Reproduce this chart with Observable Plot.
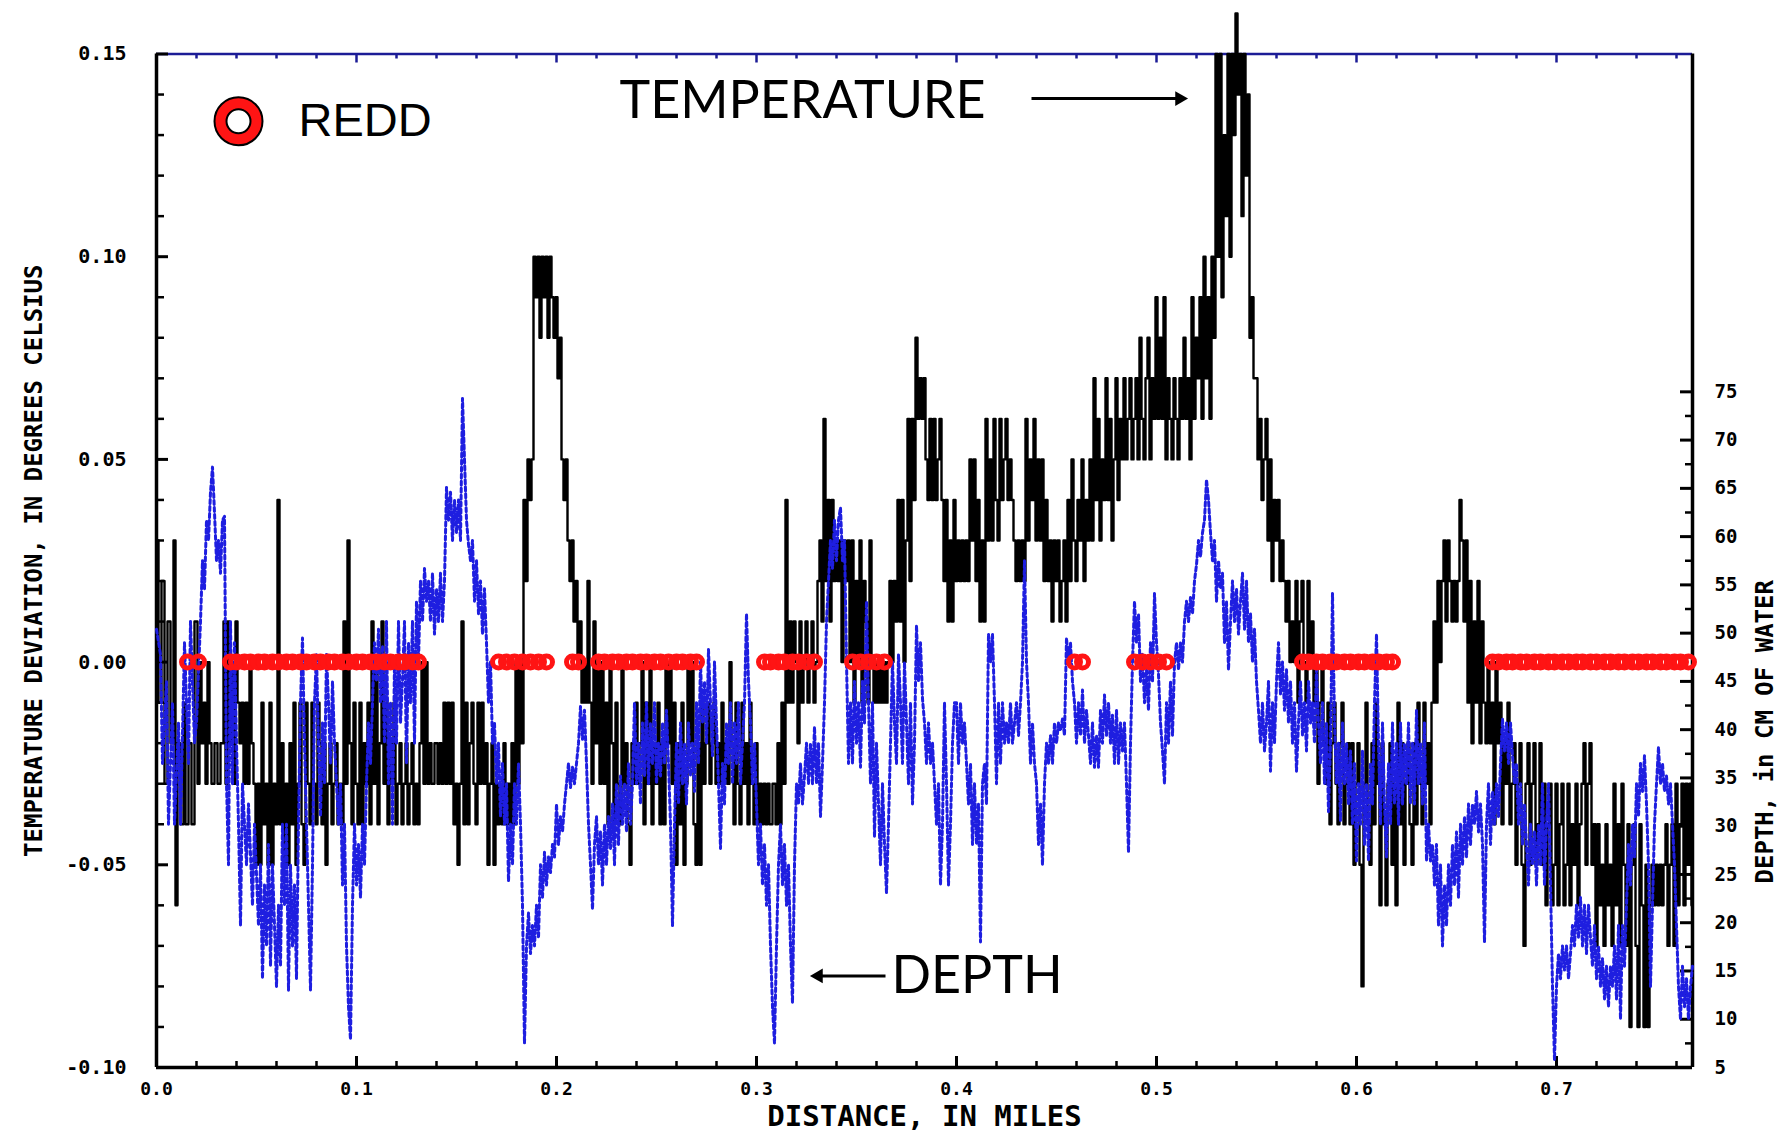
<!DOCTYPE html>
<html><head><meta charset="utf-8">
<script src="https://cdn.jsdelivr.net/npm/d3@7"></script>
<script src="https://cdn.jsdelivr.net/npm/@observablehq/plot@0.6"></script>
<style>html,body{margin:0;padding:0;background:#fff;}</style>
</head><body>
<script>
// temperature deviation (deg C) by distance (miles)
const temperature = [
[0,.03],[.002,-.01],[.003,.02],[.005,-.03],[.006,.01],[.008,-.02],[.009,.03],[.010,-.06],[.011,-.02],[.013,-.04],
[.014,-.01],[.015,-.04],[.017,-.02],[.018,-.04],[.020,.01],[.021,-.03],[.022,0],[.023,-.02],[.024,-.01],[.025,-.03],
[.026,0],[.027,-.02],[.028,-.03],[.030,-.02],[.031,-.03],[.033,-.02],[.034,.01],[.035,-.03],[.036,.01],[.037,-.02],
[.038,0],[.039,-.03],[.040,.01],[.041,-.01],[.042,-.02],[.043,-.01],[.044,-.03],[.045,-.01],[.046,-.03],[.047,0],
[.048,-.02],[.049,-.03],[.050,-.05],[.051,-.03],[.052,-.05],[.053,-.01],[.054,-.04],[.055,-.03],[.056,-.05],[.057,-.01],
[.058,-.05],[.059,-.03],[.060,-.04],[.061,.04],[.062,-.04],[.063,-.02],[.064,-.05],[.065,-.03],[.066,-.05],[.067,-.02],
[.068,-.04],[.069,-.01],[.070,-.05],[.071,-.03],[.072,-.01],[.073,-.04],[.074,-.05],[.075,-.01],[.076,-.03],[.077,-.04],
[.078,-.01],[.079,-.03],[.080,-.04],[.081,-.01],[.082,-.02],[.083,-.04],[.084,-.02],[.085,-.05],[.086,-.03],[.087,-.02],
[.088,-.04],[.089,-.03],[.090,-.02],[.091,-.04],[.092,-.03],[.093,-.04],[.094,.01],[.095,-.03],[.096,.03],[.097,-.02],
[.098,-.04],[.099,-.01],[.100,-.03],[.101,-.04],[.102,-.01],[.103,-.04],[.104,-.02],[.105,-.03],[.106,-.01],[.107,-.04],
[.108,.01],[.109,-.03],[.110,0],[.111,-.04],[.112,-.02],[.113,.01],[.114,-.03],[.115,-.01],[.116,-.04],[.117,-.02],
[.118,-.03],[.119,-.01],[.120,-.04],[.121,-.03],[.122,-.02],[.123,-.04],[.124,-.03],[.125,-.02],[.126,-.04],[.127,-.03],
[.128,-.02],[.129,-.04],[.130,-.03],[.131,-.04],[.132,-.02],[.133,0],[.134,-.03],[.135,0],[.136,-.03],[.137,-.02],
[.138,-.03],[.140,-.02],[.141,-.03],[.142,-.02],[.143,-.03],[.144,-.01],[.145,-.03],[.146,-.01],[.147,-.03],[.148,-.01],
[.149,-.04],[.150,-.03],[.151,-.05],[.152,-.03],[.153,.01],[.154,-.04],[.155,-.01],[.156,-.04],[.157,-.02],[.158,-.01],
[.159,-.03],[.160,-.04],[.161,-.01],[.162,-.03],[.163,-.01],[.164,-.03],[.165,-.02],[.166,-.05],[.167,-.03],[.168,-.02],
[.169,-.05],[.170,-.03],[.171,-.04],[.172,-.03],[.173,-.04],[.174,-.02],[.175,-.04],[.176,-.03],[.177,-.04],[.178,-.02],
[.179,-.04],[.180,0],[.181,-.03],[.182,0],[.183,-.02],[.184,.04],[.185,.02],[.186,.05],[.187,.04],[.188,.05],
[.189,.10],[.190,.09],[.191,.10],[.192,.08],[.193,.10],[.194,.09],[.195,.10],[.196,.08],[.197,.10],[.198,.09],
[.199,.08],[.200,.09],[.201,.07],[.202,.08],[.203,.05],[.204,.04],[.205,.05],[.206,.03],[.207,.02],[.208,.03],
[.209,.01],[.210,.02],[.211,0],[.212,.01],[.213,-.01],[.214,0],[.215,-.01],[.216,.02],[.217,-.01],[.218,-.03],
[.219,.01],[.220,-.02],[.221,0],[.222,-.03],[.223,0],[.224,-.03],[.225,-.01],[.226,-.04],[.227,0],[.228,-.02],
[.229,-.04],[.230,-.01],[.231,-.03],[.232,-.04],[.233,0],[.234,-.03],[.235,-.02],[.236,-.04],[.237,-.05],[.238,-.02],
[.239,-.03],[.240,-.01],[.241,-.03],[.242,-.02],[.243,0],[.244,-.04],[.245,-.01],[.246,-.03],[.247,0],[.248,-.04],
[.249,-.02],[.250,-.03],[.251,-.01],[.252,-.04],[.253,-.02],[.254,-.04],[.255,0],[.256,-.02],[.257,0],[.258,-.03],
[.259,-.01],[.260,-.05],[.261,-.02],[.262,-.04],[.263,-.01],[.264,-.05],[.265,-.03],[.266,0],[.267,-.02],[.268,0],
[.269,-.04],[.270,-.05],[.271,-.02],[.272,-.05],[.273,-.01],[.274,-.03],[.275,-.02],[.276,-.01],[.277,-.03],[.278,-.02],
[.279,-.01],[.280,-.03],[.281,-.02],[.282,-.03],[.283,-.01],[.284,-.03],[.285,-.02],[.286,-.03],[.287,0],[.288,-.02],
[.289,-.04],[.290,-.01],[.291,-.03],[.292,-.04],[.293,-.01],[.294,-.03],[.295,-.02],[.296,-.04],[.297,-.01],[.298,-.03],
[.299,-.04],[.300,-.02],[.301,-.04],[.302,-.03],[.303,-.04],[.304,-.03],[.305,-.04],[.306,-.03],[.307,-.04],[.309,-.03],
[.310,-.04],[.311,-.02],[.312,-.04],[.313,-.01],[.314,-.03],[.315,.04],[.316,-.01],[.317,.01],[.318,-.01],[.319,.01],
[.320,0],[.321,-.02],[.322,.01],[.323,-.01],[.324,0],[.325,.01],[.326,-.01],[.327,0],[.328,.01],[.329,-.01],
[.330,0],[.331,.02],[.332,.03],[.333,.01],[.334,.06],[.335,.02],[.336,.04],[.337,.01],[.338,.04],[.339,.02],
[.340,.03],[.341,.02],[.342,.03],[.343,0],[.344,.03],[.345,.02],[.346,.03],[.347,0],[.348,.03],[.349,-.01],
[.350,.02],[.351,0],[.352,.03],[.353,-.01],[.354,.02],[.355,.01],[.356,-.01],[.357,.03],[.358,0],[.359,-.01],
[.360,0],[.361,-.01],[.362,0],[.363,-.01],[.364,0],[.365,-.01],[.366,0],[.367,.02],[.368,0],[.369,.02],
[.370,.01],[.371,.04],[.372,.01],[.373,.04],[.374,0],[.375,.03],[.376,.06],[.377,.02],[.378,.06],[.379,.04],
[.380,.08],[.381,.06],[.382,.07],[.383,.06],[.384,.07],[.385,.05],[.386,.04],[.387,.06],[.388,.04],[.389,.06],
[.390,.04],[.391,.05],[.392,.06],[.393,.04],[.394,.02],[.395,.04],[.396,.01],[.397,.03],[.398,.01],[.399,.04],
[.400,.02],[.401,.03],[.402,.02],[.403,.03],[.404,.02],[.405,.03],[.406,.02],[.407,.05],[.408,.03],[.409,.05],
[.410,.02],[.411,.04],[.412,.01],[.413,.03],[.414,.01],[.415,.06],[.416,.03],[.417,.05],[.418,.03],[.419,.06],
[.420,.04],[.421,.03],[.422,.06],[.423,.04],[.424,.05],[.425,.06],[.426,.04],[.427,.05],[.428,.04],[.429,.03],
[.430,.02],[.431,.03],[.432,.02],[.433,.03],[.434,.02],[.435,.06],[.436,.03],[.437,.05],[.438,.04],[.439,.06],
[.440,.03],[.441,.05],[.442,.03],[.443,.05],[.444,.02],[.445,.04],[.446,.02],[.447,.03],[.448,.01],[.449,.03],
[.450,.02],[.451,.03],[.452,.01],[.453,.02],[.454,.03],[.455,.01],[.456,.04],[.457,.02],[.458,.05],[.459,.03],
[.460,.02],[.461,.04],[.462,.03],[.463,.05],[.464,.02],[.465,.04],[.466,.03],[.467,.05],[.468,.03],[.469,.07],
[.470,.04],[.471,.06],[.472,.03],[.473,.05],[.474,.04],[.475,.07],[.476,.04],[.477,.06],[.478,.03],[.479,.05],
[.480,.07],[.481,.04],[.482,.06],[.483,.05],[.484,.07],[.485,.05],[.486,.06],[.487,.07],[.488,.05],[.489,.06],
[.490,.07],[.491,.05],[.492,.08],[.493,.06],[.494,.05],[.495,.07],[.496,.08],[.497,.05],[.498,.07],[.499,.06],
[.500,.09],[.501,.06],[.502,.08],[.503,.06],[.504,.09],[.505,.05],[.506,.07],[.507,.06],[.508,.05],[.509,.07],
[.510,.06],[.511,.05],[.512,.07],[.513,.06],[.514,.08],[.515,.06],[.516,.07],[.517,.05],[.518,.09],[.519,.06],
[.520,.08],[.521,.07],[.522,.09],[.523,.06],[.524,.10],[.525,.07],[.526,.09],[.527,.06],[.528,.10],[.529,.08],
[.530,.15],[.531,.10],[.532,.15],[.533,.09],[.534,.13],[.535,.11],[.536,.15],[.537,.10],[.538,.15],[.539,.13],
[.540,.16],[.541,.14],[.542,.15],[.543,.11],[.544,.15],[.545,.12],[.546,.14],[.547,.08],[.548,.09],[.549,.07],
[.550,.07],[.551,.05],[.552,.06],[.553,.04],[.554,.05],[.555,.06],[.556,.03],[.557,.05],[.558,.02],[.559,.04],
[.560,.03],[.561,.04],[.562,.02],[.563,.03],[.564,.02],[.565,.01],[.566,.02],[.567,0],[.568,.01],[.569,0],
[.570,.02],[.571,-.01],[.572,.01],[.573,.02],[.574,0],[.575,-.01],[.576,.02],[.577,0],[.578,.01],[.579,-.01],
[.580,0],[.581,-.03],[.582,-.01],[.583,0],[.584,-.02],[.585,-.03],[.586,-.01],[.587,-.04],[.588,-.02],[.589,-.01],
[.590,-.03],[.591,-.04],[.592,-.02],[.593,-.01],[.594,-.04],[.595,-.03],[.596,-.02],[.597,-.04],[.598,-.02],[.599,-.05],
[.600,-.03],[.601,-.02],[.602,-.05],[.603,-.08],[.604,-.03],[.605,-.01],[.606,-.04],[.607,-.05],[.608,-.02],[.609,-.04],
[.610,-.01],[.611,-.03],[.612,-.06],[.613,-.02],[.614,-.04],[.615,-.06],[.616,-.03],[.617,-.02],[.618,-.05],[.619,-.03],
[.620,-.06],[.621,-.01],[.622,-.04],[.623,-.02],[.624,-.05],[.625,-.03],[.626,-.02],[.627,-.04],[.628,-.05],[.629,-.02],
[.630,-.04],[.631,-.01],[.632,-.03],[.633,-.04],[.634,-.01],[.635,-.03],[.636,-.02],[.637,-.04],[.638,-.01],[.639,.01],
[.640,-.01],[.641,.02],[.642,0],[.643,.02],[.644,.03],[.645,.01],[.646,.03],[.647,.02],[.648,.01],[.649,.02],
[.650,.01],[.651,.02],[.652,.04],[.653,.03],[.654,.01],[.655,.03],[.656,-.01],[.657,.02],[.658,-.02],[.659,.01],
[.660,-.01],[.661,.02],[.662,-.02],[.663,.01],[.664,-.01],[.665,-.02],[.666,0],[.667,-.02],[.668,-.01],[.669,-.04],
[.670,0],[.671,-.02],[.672,-.01],[.673,-.04],[.674,-.02],[.675,-.03],[.676,-.01],[.677,-.04],[.678,-.03],[.679,-.02],
[.680,-.05],[.681,-.03],[.682,-.02],[.683,-.05],[.684,-.07],[.685,-.03],[.686,-.02],[.687,-.05],[.688,-.03],[.689,-.02],
[.690,-.05],[.691,-.04],[.692,-.02],[.693,-.05],[.694,-.03],[.695,-.06],[.696,-.04],[.697,-.03],[.698,-.06],[.699,-.05],
[.700,-.03],[.701,-.06],[.702,-.04],[.703,-.03],[.704,-.06],[.705,-.05],[.706,-.03],[.707,-.06],[.708,-.04],[.709,-.05],
[.710,-.03],[.711,-.06],[.712,-.04],[.713,-.03],[.714,-.02],[.715,-.05],[.716,-.03],[.717,-.02],[.718,-.05],[.719,-.04],
[.720,-.07],[.721,-.04],[.722,-.06],[.723,-.05],[.724,-.07],[.725,-.04],[.726,-.06],[.727,-.05],[.728,-.07],[.729,-.03],
[.730,-.06],[.731,-.04],[.732,-.07],[.733,-.03],[.734,-.05],[.735,-.07],[.736,-.04],[.737,-.09],[.738,-.05],[.739,-.04],
[.740,-.07],[.741,-.09],[.742,-.04],[.743,-.06],[.744,-.09],[.745,-.05],[.746,-.09],[.747,-.06],[.748,-.05],[.749,-.06],
[.750,-.05],[.751,-.06],[.752,-.05],[.753,-.06],[.754,-.05],[.755,-.04],[.756,-.07],[.757,-.05],[.758,-.04],[.759,-.07],
[.760,-.03],[.761,-.06],[.762,-.04],[.763,-.03],[.764,-.06],[.765,-.03],[.766,-.05],[.767,-.03],[.768,-.06]
];

// depth of water (cm) by distance (miles)
const depth = [
[0,50.4],[.002,47.8],[.003,36.5],[.005,45],[.006,30.2],[.008,42.8],[.009,30.2],[.011,40.7],[.012,30.2],[.014,49],
[.016,36.5],[.017,51.2],[.019,38.6],[.020,40.7],[.022,51.2],[.023,57.5],[.024,54.6],[.025,61.7],[.026,59.6],[.027,64.6],
[.028,67.2],[.029,62.5],[.030,57.5],[.031,59.6],[.032,56.2],[.033,61.7],[.034,62.1],[.035,34.4],[.036,26],[.037,51.2],
[.038,34.4],[.039,49],[.040,38.6],[.041,30.2],[.042,19.7],[.043,34.4],[.045,26],[.046,32.3],[.048,21.8],[.049,30.2],
[.051,19.7],[.052,26],[.053,14.2],[.054,23.9],[.055,17.6],[.056,28.1],[.057,15.5],[.058,26],[.060,13.4],[.061,21.8],
[.062,15.5],[.063,30.2],[.064,21.8],[.065,30.2],[.066,13],[.067,26],[.068,17.6],[.069,23.9],[.070,14.2],[.071,30.2],
[.072,42.8],[.073,49.5],[.074,38.6],[.075,30.2],[.076,21.8],[.077,13],[.078,26],[.079,42.8],[.080,47.8],[.081,38.6],
[.082,31],[.083,40.7],[.084,34.4],[.085,47.8],[.086,42.8],[.087,36.5],[.088,45],[.089,38.6],[.090,34.4],[.091,30.2],
[.092,34.4],[.093,23.9],[.094,30.2],[.095,17.6],[.096,11.3],[.097,7.9],[.098,21.8],[.099,30.2],[.100,23.9],[.101,28.1],
[.102,22.6],[.103,30.2],[.104,26],[.105,34.4],[.106,40.7],[.107,36.5],[.108,42.8],[.109,49],[.110,45],[.111,50.4],
[.112,42.8],[.113,48.7],[.114,38.6],[.115,51.2],[.116,34.4],[.117,42.8],[.118,30.2],[.119,47],[.120,38.6],[.121,51.2],
[.122,40.7],[.123,45],[.124,51.2],[.125,36.5],[.126,49],[.127,42.8],[.128,51.2],[.129,38.6],[.130,53.3],[.131,47],
[.132,55.4],[.133,51.2],[.134,56.7],[.135,53.3],[.136,55.4],[.137,51.2],[.138,56.2],[.139,49.9],[.140,54.6],[.141,51.2],
[.142,56.2],[.143,51.2],[.144,55.4],[.145,65.1],[.146,61.7],[.147,64.6],[.148,59.6],[.149,63.8],[.150,60.4],[.151,63.8],
[.152,59.6],[.153,74.3],[.154,68],[.155,61.7],[.156,59.2],[.157,57.5],[.158,59.6],[.159,53.3],[.160,57.5],[.161,52],
[.162,55.4],[.163,49.9],[.164,54.6],[.165,49],[.166,42.8],[.167,47],[.168,38.6],[.169,40.7],[.170,34.4],[.171,38.6],
[.172,31],[.173,36.5],[.174,30.2],[.175,34.4],[.176,24.3],[.177,30.2],[.178,26],[.179,34.4],[.180,30.2],[.181,36.5],
[.182,30.2],[.183,21.8],[.184,7.5],[.185,17.6],[.186,21],[.187,16.8],[.188,19.7],[.189,17.6],[.190,21.8],[.191,18.4],
[.192,26],[.193,22.6],[.194,27.3],[.195,23.9],[.196,26.8],[.197,25.2],[.198,28.1],[.199,26.8],[.200,32.3],[.201,28.1],
[.202,31],[.203,29.4],[.204,32.3],[.205,34.4],[.206,36.5],[.207,34],[.208,36.1],[.209,34.4],[.210,36.5],[.211,38.6],
[.212,42.4],[.213,39],[.214,42],[.215,36.5],[.216,30.2],[.217,26],[.218,21.4],[.219,28.1],[.220,31],[.221,26],
[.222,29.4],[.223,23.9],[.224,30.2],[.225,26],[.226,31],[.227,27.7],[.228,32.3],[.229,26],[.230,34.4],[.231,28.1],
[.232,35.2],[.233,30.2],[.234,34.4],[.235,29.4],[.236,36.5],[.237,30.2],[.238,34.4],[.239,42.8],[.240,34.4],[.241,38.6],
[.242,32.3],[.243,40.7],[.244,35.2],[.245,42.8],[.246,34.4],[.247,40.7],[.248,36.5],[.249,42.8],[.250,34.4],[.251,38.6],
[.252,35.2],[.253,40.7],[.254,36.5],[.255,42],[.256,36.5],[.257,30.2],[.258,19.7],[.259,30.2],[.260,38.6],[.261,32.3],
[.262,40.7],[.263,34.4],[.264,38.6],[.265,32.3],[.266,40.7],[.267,35.2],[.268,38.6],[.269,33.6],[.270,42.8],[.271,36.5],
[.272,47],[.273,40.7],[.274,45],[.275,38.6],[.276,48.3],[.277,42.8],[.278,37.3],[.279,47],[.280,40.7],[.281,34.4],
[.282,27.7],[.283,36.5],[.284,32.3],[.285,40.7],[.286,36.5],[.287,42.8],[.288,34.4],[.289,40.7],[.290,36.5],[.291,42.8],
[.292,34.4],[.293,38.6],[.294,42.8],[.295,52],[.296,45],[.297,40.7],[.298,34.4],[.299,38.6],[.300,32.3],[.301,26],
[.302,30.2],[.303,23.9],[.304,28.1],[.305,21.8],[.306,26],[.307,17.6],[.308,11.3],[.309,7.5],[.310,17.6],[.311,26],
[.312,30.2],[.313,23.9],[.314,28.1],[.315,21.8],[.316,26],[.317,17.6],[.318,11.7],[.319,26],[.320,34.4],[.321,32.3],
[.322,36.5],[.323,32.3],[.324,35.2],[.325,38.6],[.326,34.4],[.327,38.6],[.328,34.4],[.329,40.3],[.330,34.4],[.331,38.6],
[.332,31],[.333,36.5],[.334,42.8],[.335,51.2],[.336,55.4],[.337,59.6],[.338,56.7],[.339,61.7],[.340,57.5],[.341,61.7],
[.342,63],[.343,57.5],[.344,59.6],[.345,47],[.346,36.5],[.347,42.8],[.348,36.5],[.349,45],[.350,38.6],[.351,42.8],
[.352,36.1],[.353,45],[.354,40.7],[.355,53.3],[.356,42.8],[.357,34.4],[.358,42.8],[.359,28.9],[.360,38.6],[.361,32.3],
[.362,26],[.363,34.4],[.364,28.1],[.365,23.1],[.366,30.2],[.367,38.6],[.368,47],[.369,40.7],[.370,36.5],[.371,47.8],
[.372,42.8],[.373,36.5],[.374,47],[.375,40.7],[.376,34.4],[.377,42.8],[.378,32.3],[.379,38.6],[.380,50.8],[.381,45],
[.382,49],[.383,43.2],[.384,40.7],[.385,36.5],[.386,40.7],[.387,36.5],[.388,38.6],[.389,34.4],[.390,30.2],[.391,34.4],
[.392,23.9],[.393,30.2],[.394,42.8],[.395,34.4],[.396,23.9],[.397,30.2],[.398,38.6],[.399,42.8],[.400,42.8],[.401,36.5],
[.402,42.8],[.403,38.6],[.404,40.7],[.405,36.5],[.406,32.3],[.407,36.5],[.408,28.1],[.409,34.4],[.410,28.1],[.411,32.3],
[.412,18],[.413,34.4],[.414,36.5],[.415,32.3],[.416,49.9],[.417,47],[.418,49.9],[.419,42.8],[.420,34.4],[.421,42.8],
[.422,36.5],[.423,42.8],[.424,38.6],[.425,40.7],[.426,38.6],[.427,42.8],[.428,38.6],[.429,40.7],[.430,42.8],[.431,39.4],
[.432,42.8],[.433,47],[.434,57.5],[.435,47],[.436,42.8],[.437,36.5],[.438,40.7],[.439,36.5],[.440,34.4],[.441,28.1],
[.442,32.3],[.443,26],[.444,34.4],[.445,38.6],[.446,36.5],[.447,39.4],[.448,36.5],[.449,40.7],[.450,38.6],[.451,40.7],
[.452,39.9],[.453,41.1],[.454,39.4],[.455,49.5],[.456,47],[.457,49],[.458,45],[.459,42.8],[.460,38.6],[.461,42.8],
[.462,39.4],[.463,44.1],[.464,38.6],[.465,42],[.466,39.4],[.467,36.5],[.468,40.7],[.469,36.1],[.470,39.4],[.471,36.1],
[.472,42],[.473,38.6],[.474,43.6],[.475,39.4],[.476,42.8],[.477,38.6],[.478,41.5],[.479,36.5],[.480,42],[.481,36.5],
[.482,40.7],[.483,37.8],[.484,40.7],[.485,34.4],[.486,27.3],[.487,38.6],[.488,47],[.489,53.3],[.490,49],[.491,52],
[.492,45],[.493,47.8],[.494,42.8],[.495,46.2],[.496,42],[.497,49],[.498,45],[.499,54.1],[.500,49],[.501,45.7],
[.502,40.7],[.503,37.8],[.504,34.4],[.505,42.8],[.506,38.6],[.507,45],[.508,39.4],[.509,47],[.510,49],[.511,46.2],
[.512,49],[.513,47],[.514,51.2],[.515,53.3],[.516,51.2],[.517,53.7],[.518,52],[.519,55.4],[.520,57.1],[.521,59.6],
[.522,57.9],[.523,60.4],[.524,61.7],[.525,65.9],[.526,63.8],[.527,60.4],[.528,57.5],[.529,59.6],[.530,53.3],[.531,57.5],
[.532,54.6],[.533,56.2],[.534,49],[.535,53.3],[.536,46.2],[.537,51.2],[.538,55.4],[.539,51.2],[.540,54.6],[.541,49.9],
[.542,53.3],[.543,56.2],[.544,50.4],[.545,55.4],[.546,49],[.547,52],[.548,47],[.549,50.4],[.550,45],[.551,42],
[.552,38.6],[.553,42.8],[.554,37.8],[.555,40.7],[.556,45],[.557,35.7],[.558,42.8],[.559,38.6],[.560,45],[.561,49],
[.562,43.6],[.563,47],[.564,42],[.565,46.2],[.566,40.7],[.567,45],[.568,38.6],[.569,42.8],[.570,35.7],[.571,40.7],
[.572,45],[.573,39.4],[.574,42.8],[.575,37.8],[.576,45],[.577,40.7],[.578,42.8],[.579,38.6],[.580,46.2],[.581,40.7],
[.582,36.5],[.583,42.8],[.584,34.4],[.585,40.7],[.586,31.5],[.587,38.6],[.588,54.1],[.589,40.7],[.590,34.4],[.591,38.6],
[.592,30.6],[.593,40.7],[.594,34.4],[.595,38.6],[.596,32.3],[.597,37.8],[.598,30.2],[.599,36.5],[.600,26.4],[.601,34.4],
[.602,30.2],[.603,37.8],[.604,28.1],[.605,34.4],[.606,26.4],[.607,36.5],[.608,32.3],[.609,42.8],[.610,49.9],[.611,38.6],
[.612,30.2],[.613,40.7],[.614,32.3],[.615,26.8],[.616,36.5],[.617,30.2],[.618,40.7],[.619,32.3],[.620,38.6],[.621,30.2],
[.622,40.7],[.623,32.3],[.624,38.6],[.625,34.4],[.626,40.7],[.627,32.3],[.628,38.6],[.629,32.3],[.630,42],[.631,34.4],
[.632,38.6],[.633,32.3],[.634,40.7],[.635,26.4],[.636,30.2],[.637,26.4],[.638,28.1],[.639,23.9],[.640,28.1],[.641,19.7],
[.642,26],[.643,17.6],[.644,23.9],[.645,19.7],[.646,26],[.647,21.8],[.648,28.1],[.649,23.9],[.650,29.4],[.651,22.6],
[.652,30.2],[.653,26],[.654,31],[.655,26.8],[.656,32.3],[.657,28.1],[.658,32.3],[.659,30.2],[.660,33.6],[.661,29.4],
[.662,32.3],[.663,28.1],[.664,18],[.665,30.2],[.666,34.4],[.667,28.1],[.668,33.6],[.669,30.2],[.670,34.4],[.671,31],
[.672,36.5],[.673,41.1],[.674,37.8],[.675,40.7],[.676,36.5],[.677,40.7],[.678,37.3],[.679,34.4],[.680,36.5],[.681,30.2],
[.682,34.4],[.683,28.1],[.684,32.3],[.685,28.1],[.686,23.9],[.687,30.2],[.688,26],[.689,29.4],[.690,23.9],[.691,30.2],
[.692,26],[.693,34.4],[.694,23.9],[.695,30.2],[.696,34.4],[.697,23.9],[.698,13.4],[.699,5.8],[.700,13.4],[.701,16.8],
[.702,14.2],[.703,17.6],[.704,15.1],[.705,17.6],[.706,14.2],[.707,16.8],[.708,19.7],[.709,17.6],[.710,21.8],[.711,18.4],
[.712,22.6],[.713,17.6],[.714,21.8],[.715,16.8],[.716,21.8],[.717,18.4],[.718,15.5],[.719,19.7],[.720,14.2],[.721,17.6],
[.722,13.4],[.723,16.3],[.724,12.1],[.725,15.5],[.726,11.3],[.727,15.5],[.728,13.4],[.729,17.6],[.730,12.1],[.731,19.7],
[.732,10],[.733,19.7],[.734,15.5],[.735,21.8],[.736,28.1],[.737,23.9],[.738,30.2],[.739,26.8],[.740,34.4],[.741,31],
[.742,36.5],[.743,33.6],[.744,37.3],[.745,32.3],[.746,26],[.747,13.4],[.748,21.8],[.749,30.2],[.750,34.4],[.751,38.2],
[.752,34.4],[.753,36.5],[.754,33.6],[.755,35.2],[.756,32.3],[.757,34.4],[.758,30.2],[.759,26],[.760,19.7],[.761,13.4],
[.762,10],[.763,15.5],[.764,11.3],[.765,14.2],[.766,10],[.767,13.4],[.768,15.5]
];

// redd locations (miles), plotted on the 0.00 line
const redds = [
.0155,.021,
.037,.040,.044,.047,.051,.054,.058,.061,.065,.068,.072,.075,.079,.082,.086,.089,.093,.096,.100,.103,.107,.110,.114,.117,.121,.124,.128,.131,
.171,.175,.179,.183,.187,.191,.195,
.208,.211,
.221,.224,.228,.231,.235,.238,.242,.245,.249,.252,.256,.260,.263,.267,.270,
.304,.307,.311,.314,.318,.321,.325,.329,
.348,.352,.356,.360,.364,
.459,.463,
.489,.493,.497,.501,.505,
.573,.576,.580,.583,.587,.590,.594,.597,.601,.604,.608,.611,.615,.618,
.668,.671,.675,.678,.682,.685,.689,.692,.696,.699,.703,.706,.710,.713,.717,.720,.724,.727,.731,.734,.738,.741,.745,.748,.752,.755,.759,.762,.766
];

const tempTicks = [-0.10, -0.05, 0.00, 0.05, 0.10, 0.15];
const distTicks = [0.0, 0.1, 0.2, 0.3, 0.4, 0.5, 0.6, 0.7];
const depthTicks = [5, 10, 15, 20, 25, 30, 35, 40, 45, 50, 55, 60, 65, 70, 75];

const tempDomain = [-0.10, 0.15];
const depthDomain = [5, 110];
const distDomain = [0, 0.768];
const depthToY = d => tempDomain[0] + (d - depthDomain[0]) * (tempDomain[1] - tempDomain[0]) / (depthDomain[1] - depthDomain[0]);

const labelTemperature = {label: "TEMPERATURE", x: 0.323, y: 0.1383};
const labelDepth = {label: "DEPTH", x: 0.3675, y: -0.0774};
const arrows = [
  {x1: 0.4375, y1: 0.139, x2: 0.5115, y2: 0.139, rot: 90},
  {x1: 0.3645, y1: -0.0774, x2: 0.331, y2: -0.0774, rot: -90}
];
const legendItem = {x: 0.041, y: 0.1334, labelX: 0.071, label: "REDD"};

const W = 1786, H = 1131, mL = 156, mR = 94, mT = 53.5, mB = 64;
const pw = W - mL - mR, ph = H - mT - mB;
const BLUE = "#1e1ee0", NAVY = "#1c1c96", RED = "#ff1414";
const MONO = "DejaVu Sans Mono";

const minorTemp = d3.range(-0.09, 0.1501, 0.01).filter(v => Math.abs(Math.round(v * 100) % 5) !== 0);
const minorDist = d3.range(0.02, 0.768, 0.02).filter(v => Math.round(v * 100) % 10 !== 0);
const minorDepth = d3.range(7.5, 75, 5);

const svg = Plot.plot({
  width: W, height: H,
  marginLeft: mL, marginRight: mR, marginTop: mT, marginBottom: mB,
  x: {domain: distDomain, axis: null},
  y: {domain: tempDomain, axis: null},
  style: {background: "white", overflow: "visible"},
  marks: [
    // frame
    Plot.ruleY([tempDomain[1]], {stroke: NAVY, strokeWidth: 2.5}),
    Plot.ruleX([distDomain[0]], {stroke: "black", strokeWidth: 3.5}),
    Plot.ruleX([distDomain[1]], {stroke: "black", strokeWidth: 3.5}),
    Plot.ruleY([tempDomain[0]], {stroke: "black", strokeWidth: 3.5}),
    // left ticks (inward)
    Plot.ruleY(tempTicks, {y: d => d, insetRight: pw - 12, stroke: "black", strokeWidth: 3}),
    Plot.ruleY(minorTemp, {y: d => d, insetRight: pw - 8, stroke: "black", strokeWidth: 2.5}),
    // bottom ticks
    Plot.ruleX(distTicks.slice(1), {x: d => d, insetTop: ph - 11, stroke: "black", strokeWidth: 3}),
    Plot.ruleX(minorDist, {x: d => d, insetTop: ph - 6, stroke: "black", strokeWidth: 2.5}),
    // top ticks (blue)
    Plot.ruleX(distTicks.slice(1), {x: d => d, insetBottom: ph - 9, stroke: NAVY, strokeWidth: 2.5}),
    Plot.ruleX(minorDist, {x: d => d, insetBottom: ph - 5, stroke: NAVY, strokeWidth: 2.5}),
    // right ticks (depth)
    Plot.ruleY(depthTicks, {y: d => depthToY(d), insetLeft: pw - 12, stroke: "black", strokeWidth: 3}),
    Plot.ruleY(minorDepth, {y: d => depthToY(d), insetLeft: pw - 7, stroke: "black", strokeWidth: 2.5}),
    // tick labels
    Plot.text(tempTicks, {y: d => d, text: d => d.toFixed(2), frameAnchor: "left", dx: -30, textAnchor: "end",
      fontFamily: MONO, fontWeight: "bold", fontSize: 20, fill: "black"}),
    Plot.text(distTicks, {x: d => d, text: d => d.toFixed(1), frameAnchor: "bottom", dy: 27,
      fontFamily: MONO, fontWeight: "bold", fontSize: 18, fill: "black"}),
    Plot.text(depthTicks, {y: d => depthToY(d), text: d => String(d), frameAnchor: "right", dx: 22, textAnchor: "start",
      fontFamily: MONO, fontWeight: "bold", fontSize: 19, fill: "black"}),
    // axis titles
    Plot.text(["TEMPERATURE DEVIATION, IN DEGREES CELSIUS"], {frameAnchor: "left", dx: -122, rotate: -90, textAnchor: "middle",
      fontFamily: MONO, fontWeight: "bold", fontSize: 24, fill: "black"}),
    Plot.text(["DISTANCE, IN MILES"], {frameAnchor: "bottom", dy: 58, textAnchor: "middle",
      fontFamily: MONO, fontWeight: "bold", fontSize: 29, fill: "black"}),
    Plot.text(["DEPTH, in CM OF WATER"], {frameAnchor: "right", dx: 73, dy: 171, rotate: -90, textAnchor: "middle",
      fontFamily: MONO, fontWeight: "bold", fontSize: 24, fill: "black"}),
    // data
    Plot.line(temperature, {x: d => d[0], y: d => d[1], curve: "step", stroke: "black", strokeWidth: 2.4}),
    Plot.line(depth, {x: d => d[0], y: d => depthToY(d[1]), stroke: BLUE, strokeWidth: 3, strokeDasharray: "4,3"}),
    Plot.dot(redds, {x: d => d, y: () => 0, r: 6, stroke: RED, strokeWidth: 5, fill: "none"}),
    // legend
    Plot.dot([legendItem], {x: "x", y: "y", r: 18, stroke: RED, strokeWidth: 12, fill: "white"}),
    Plot.dot([legendItem], {x: "x", y: "y", r: 24, stroke: "black", strokeWidth: 2, fill: "none"}),
    Plot.dot([legendItem], {x: "x", y: "y", r: 12, stroke: "black", strokeWidth: 2, fill: "none"}),
    Plot.text([legendItem], {x: "labelX", y: "y", text: "label", textAnchor: "start",
      fontFamily: "Liberation Sans", fontSize: 47, fill: "black"}),
    // annotations
    Plot.text([labelTemperature], {x: "x", y: "y", text: "label", textAnchor: "middle",
      fontFamily: "Lato", fontSize: 52, fill: "black"}),
    Plot.text([labelDepth], {x: "x", y: "y", text: "label", textAnchor: "start",
      fontFamily: "Lato", fontSize: 52, fill: "black"}),
    Plot.link(arrows, {x1: "x1", y1: "y1", x2: "x2", y2: "y2", stroke: "black", strokeWidth: 3}),
    Plot.dot(arrows, {x: "x2", y: "y2", symbol: "triangle", rotate: "rot", r: 5.5, fill: "black", stroke: "none"})
  ]
});
document.body.appendChild(svg);
</script>
</body></html>
